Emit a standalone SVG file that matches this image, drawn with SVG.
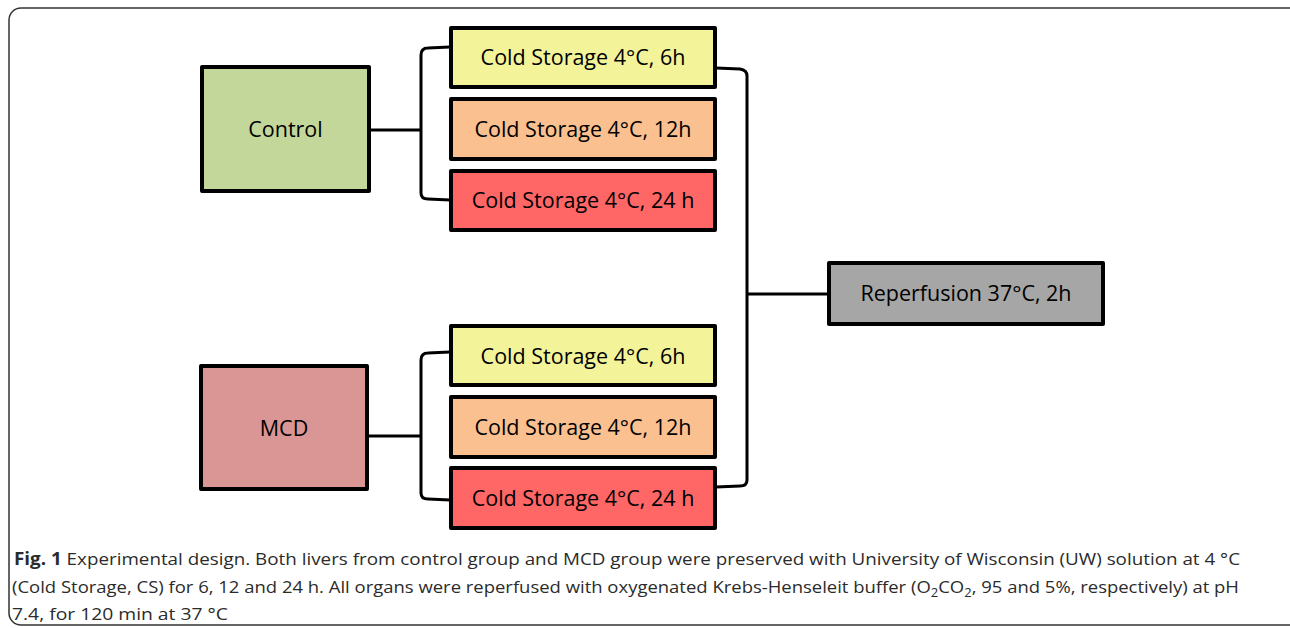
<svg xmlns="http://www.w3.org/2000/svg" width="1290" height="628" viewBox="0 0 1290 628">
<style>
.box{stroke:#000;stroke-width:4;stroke-linejoin:round}
.lbl{font-family:"Open Sans","Liberation Sans",sans-serif;font-size:21.5px;fill:#000;text-anchor:middle}
.con{fill:none;stroke:#000;stroke-width:3}
.cap{font-family:"Open Sans","Liberation Sans",sans-serif;font-size:17px;fill:#2b2b2b}
</style>
<rect x="0" y="0" width="1290" height="628" fill="#fff"/>
<rect x="9" y="8" width="1300" height="617" rx="12" fill="none" stroke="#333" stroke-width="1.5"/>
<g id="connectors">
<path class="con" d="M450,47 L428,48 Q421,48 421,55 L421,193 Q421,199 428,199 L450,200"/>
<path class="con" d="M370,130 L421,130"/>
<path class="con" d="M450,352 L428,353 Q421,353 421,360 L421,493 Q421,499 428,499 L450,500"/>
<path class="con" d="M368,436 L421,436"/>
<path class="con" d="M716,68 L740,69 Q747,70 747,76 L747,480 Q747,486 740,486 L716,487"/>
<path class="con" d="M747,294 L828,294"/>
</g>
<g id="control"><rect class="box" x="202" y="67" width="167" height="124" fill="#c4d79b"/><text class="lbl" x="285.5" y="137">Control</text></g>
<g id="mcd"><rect class="box" x="201" y="366" width="166" height="123" fill="#d99694"/><text class="lbl" x="284" y="436">MCD</text></g>
<g id="c6a"><rect class="box" x="451" y="28" width="264" height="59" fill="#f3f39a"/><text class="lbl" x="583" y="65">Cold Storage 4°C, 6h</text></g>
<g id="c12a"><rect class="box" x="451" y="99" width="264" height="60" fill="#fac090"/><text class="lbl" x="583" y="137">Cold Storage 4°C, 12h</text></g>
<g id="c24a"><rect class="box" x="451" y="171" width="264" height="59" fill="#ff6666"/><text class="lbl" x="583" y="208">Cold Storage 4°C, 24 h</text></g>
<g id="c6b"><rect class="box" x="451" y="326" width="264" height="59" fill="#f3f39a"/><text class="lbl" x="583" y="364">Cold Storage 4°C, 6h</text></g>
<g id="c12b"><rect class="box" x="451" y="397" width="264" height="60" fill="#fac090"/><text class="lbl" x="583" y="435">Cold Storage 4°C, 12h</text></g>
<g id="c24b"><rect class="box" x="451" y="468" width="264" height="60" fill="#ff6666"/><text class="lbl" x="583" y="506">Cold Storage 4°C, 24 h</text></g>
<g id="reperfusion"><rect class="box" x="829" y="263" width="274" height="61" fill="#a6a6a6"/><text class="lbl" x="966" y="301">Reperfusion 37°C, 2h</text></g>
<g id="caption">
<text class="cap" x="14" y="565" textLength="1226" lengthAdjust="spacingAndGlyphs"><tspan font-weight="bold">Fig. 1</tspan> Experimental design. Both livers from control group and MCD group were preserved with University of Wisconsin (UW) solution at 4 °C</text>
<text class="cap" x="12" y="593" textLength="1227" lengthAdjust="spacingAndGlyphs">(Cold Storage, CS) for 6, 12 and 24 h. All organs were reperfused with oxygenated Krebs-Henseleit buffer (O<tspan font-size="12" dy="4">2</tspan><tspan dy="-4">CO</tspan><tspan font-size="12" dy="4">2</tspan><tspan dy="-4">, 95 and 5%, respectively) at pH</tspan></text>
<text class="cap" x="12" y="620" textLength="216" lengthAdjust="spacingAndGlyphs">7.4, for 120 min at 37 °C</text>
</g>
</svg>
